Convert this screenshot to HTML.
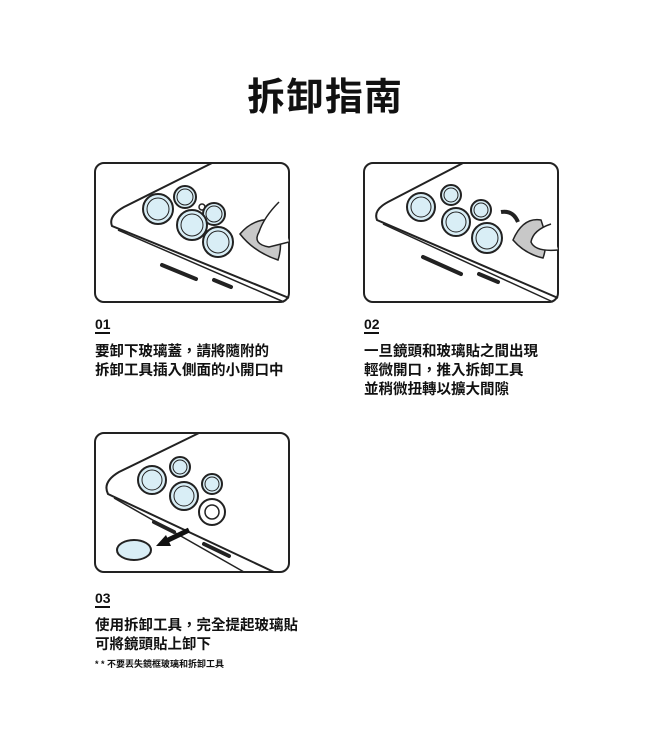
<!DOCTYPE html>
<html><head><meta charset="utf-8"><style>
body{margin:0;width:650px;height:756px;background:#fff;font-family:"Liberation Sans","Noto Sans CJK TC",sans-serif;color:#111;position:relative;overflow:hidden}
.a{position:absolute}
h1{position:absolute;top:66px;left:0;width:650px;text-align:center;margin:0;font-size:38px;font-weight:bold;letter-spacing:1px}
.num{font-weight:bold;font-size:14px}
.ul{width:15px;height:2px;background:#111}
.t{font-size:14.5px;font-weight:bold;line-height:19px}
.s{font-size:9px;font-weight:bold}
</style></head><body>
<h1>拆卸指南</h1>

<svg class="a" style="left:94px;top:162px" width="196" height="141" viewBox="0 0 196 141">
<rect x="1" y="1" width="194" height="139" rx="9" fill="#fff" stroke="#222" stroke-width="2"/>
<path d="M118 1 L30 45 Q14 54 18 64 L195 136" fill="none" stroke="#222" stroke-width="2"/>
<path d="M24 68 L190 140" fill="none" stroke="#222" stroke-width="1.5"/>
<path d="M68 103 L102 117 M120 118 L137 125" stroke="#222" stroke-width="4" stroke-linecap="round"/>
<g stroke="#222" stroke-width="2" fill="#d9eef6">
<circle cx="64" cy="47" r="15"/><circle cx="91" cy="35" r="11"/><circle cx="120" cy="52" r="11"/>
<circle cx="98" cy="63" r="15"/><circle cx="124" cy="80" r="15"/></g>
<g stroke="#222" stroke-width="1" fill="none">
<circle cx="64" cy="47" r="11"/><circle cx="91" cy="35" r="8"/><circle cx="120" cy="52" r="8"/>
<circle cx="98" cy="63" r="11"/><circle cx="124" cy="80" r="11"/></g>
<circle cx="108" cy="45" r="3" fill="none" stroke="#222" stroke-width="1.5"/>
<path d="M146 72 Q160 55 182 58 Q190 80 184 98 Q160 90 146 72Z" fill="#c8c8c8" stroke="#222" stroke-width="1.5"/>
<path d="M185 40 Q170 55 165 70 Q158 82 175 85 L195 80" fill="#fff" stroke="#222" stroke-width="1.5"/>
</svg>

<svg class="a" style="left:363px;top:162px" width="196" height="141" viewBox="0 0 196 141">
<rect x="1" y="1" width="194" height="139" rx="9" fill="#fff" stroke="#222" stroke-width="2"/>
<path d="M100 1 L25 40 Q10 48 14 58 L195 136" fill="none" stroke="#222" stroke-width="2"/>
<path d="M20 62 L190 140" fill="none" stroke="#222" stroke-width="1.5"/>
<path d="M60 95 L98 112 M116 112 L135 120" stroke="#222" stroke-width="4" stroke-linecap="round"/>
<g stroke="#222" stroke-width="2" fill="#d9eef6">
<circle cx="58" cy="45" r="14"/><circle cx="88" cy="33" r="10"/><circle cx="118" cy="48" r="10"/>
<circle cx="93" cy="60" r="14"/><circle cx="124" cy="76" r="15"/></g>
<g stroke="#222" stroke-width="1" fill="none">
<circle cx="58" cy="45" r="10"/><circle cx="88" cy="33" r="7"/><circle cx="118" cy="48" r="7"/>
<circle cx="93" cy="60" r="10"/><circle cx="124" cy="76" r="11"/></g>
<path d="M138 50 Q150 48 155 60" fill="none" stroke="#222" stroke-width="4"/>
<path d="M150 78 Q160 55 178 58 Q186 80 180 96 Q162 92 150 78Z" fill="#c8c8c8" stroke="#222" stroke-width="1.5"/>
<path d="M188 62 Q170 68 168 80 Q172 90 195 88" fill="#fff" stroke="#222" stroke-width="1.5"/>
</svg>

<svg class="a" style="left:94px;top:432px" width="196" height="141" viewBox="0 0 196 141">
<rect x="1" y="1" width="194" height="139" rx="9" fill="#fff" stroke="#222" stroke-width="2"/>
<path d="M105 1 L25 40 Q8 50 14 62 L180 140" fill="none" stroke="#222" stroke-width="2"/>
<path d="M20 66 L150 140" fill="none" stroke="#222" stroke-width="1.5"/>
<path d="M60 90 L80 100 M110 112 L135 124" stroke="#222" stroke-width="4" stroke-linecap="round"/>
<g stroke="#222" stroke-width="2" fill="#d9eef6">
<circle cx="58" cy="48" r="14"/><circle cx="86" cy="35" r="10"/><circle cx="118" cy="52" r="10"/>
<circle cx="90" cy="64" r="14"/></g>
<g stroke="#222" stroke-width="1" fill="none">
<circle cx="58" cy="48" r="10"/><circle cx="86" cy="35" r="7"/><circle cx="118" cy="52" r="7"/>
<circle cx="90" cy="64" r="10"/></g>
<circle cx="118" cy="80" r="13" fill="#fff" stroke="#222" stroke-width="2"/>
<circle cx="118" cy="80" r="7" fill="#fff" stroke="#222" stroke-width="1.5"/>
<ellipse cx="40" cy="118" rx="17" ry="10" fill="#d9eef6" stroke="#222" stroke-width="2"/>
<path d="M95 98 L70 110" stroke="#111" stroke-width="5"/>
<path d="M62 114 L72 103 L77 114Z" fill="#111"/>
</svg>

<div class="a num" style="left:95px;top:316px">01</div><div class="a ul" style="left:95px;top:332px"></div>
<div class="a t" style="left:95px;top:343px">要卸下玻璃蓋，請將隨附的<br>拆卸工具插入側面的小開口中</div>

<div class="a num" style="left:364px;top:316px">02</div><div class="a ul" style="left:364px;top:332px"></div>
<div class="a t" style="left:364px;top:343px">一旦鏡頭和玻璃貼之間出現<br>輕微開口，推入拆卸工具<br>並稍微扭轉以擴大間隙</div>

<div class="a num" style="left:95px;top:590px">03</div><div class="a ul" style="left:95px;top:606px"></div>
<div class="a t" style="left:95px;top:617px">使用拆卸工具，完全提起玻璃貼<br>可將鏡頭貼上卸下</div>
<div class="a s" style="left:95px;top:657px">* * 不要丟失鏡框玻璃和拆卸工具</div>
</body></html>
